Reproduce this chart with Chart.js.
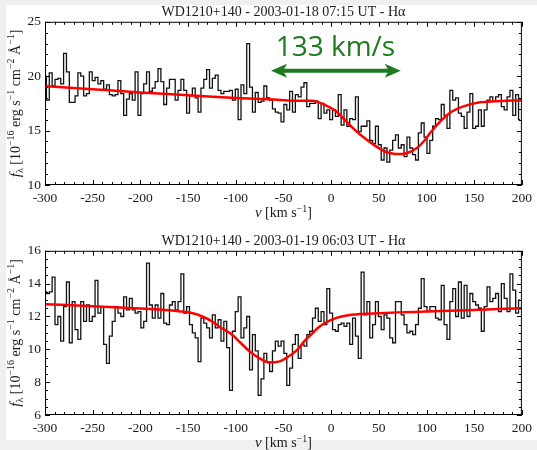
<!DOCTYPE html>
<html>
<head>
<meta charset="utf-8">
<script src="https://cdn.jsdelivr.net/npm/chart.js@4"></script>
<style>
  html, body { margin: 0; padding: 0; background: #f0f0f0; overflow: hidden; }
  #sheet { position: absolute; left: 6px; top: 5px; width: 600px; height: 435px; background: #fff; }
  canvas { position: absolute; left: 0; }
  #night1 { top: 0; }
  #night2 { top: 229px; }
</style>
</head>
<body>
<div id="sheet"></div>
<canvas id="night1" width="537" height="225"></canvas>
<canvas id="night2" width="537" height="221"></canvas>
<script>
// velocity bins of the H-alpha spectra (km/s)
const binStart = -300;
const binWidth = 3;

// flux per bin, 1e-16 erg/s/cm2/A
const fluxNight1 = [
  20.0, 17.8, 20.3, 19.1, 19.7, 19.8, 19.3, 22.1, 20.4, 17.6,
  17.6, 18.2, 20.3, 20.0, 18.2, 18.4, 20.4, 19.6, 19.9, 19.3,
  19.6, 18.8, 19.2, 18.3, 18.2, 18.3, 19.6, 18.4, 16.4, 17.9,
  18.4, 17.8, 20.4, 16.4, 18.4, 19.3, 20.4, 18.6, 18.9, 19.5,
  20.7, 19.5, 17.4, 18.9, 19.7, 19.7, 17.8, 18.7, 19.7, 18.7,
  16.6, 18.2, 18.9, 18.0, 16.7, 18.9, 19.7, 20.6, 18.9, 19.8,
  20.1, 18.7, 18.4, 18.6, 18.6, 18.7, 17.8, 18.8, 16.0, 19.2,
  18.4, 23.0, 19.0, 16.7, 18.5, 17.6, 17.7, 19.1, 18.0, 17.8,
  17.0, 16.7, 16.6, 15.8, 17.4, 16.9, 18.6, 16.7, 18.3, 18.1,
  19.0, 19.4, 17.2, 17.5, 17.5, 17.7, 16.1, 17.5, 16.6, 16.9,
  16.0, 16.9, 16.3, 18.3, 15.5, 16.9, 15.4, 16.1, 16.0, 18.1,
  14.9, 15.4, 15.4, 15.9, 14.1, 13.8, 15.4, 13.7, 12.3, 13.4,
  12.1, 13.2, 14.1, 14.6, 13.4, 13.7, 12.6, 14.4, 13.4, 12.8,
  12.3, 14.8, 15.7, 14.4, 12.9, 14.1, 15.4, 16.1, 16.0, 17.4,
  16.4, 15.2, 18.7, 17.8, 18.0, 16.6, 16.3, 15.2, 16.7, 18.4,
  15.2, 15.4, 16.9, 15.4, 16.9, 17.8, 18.1, 17.7, 18.1, 18.3,
  17.2, 16.9, 18.1, 18.7, 16.4, 18.3, 16.0
];
const fluxNight2 = [
  13.5, 13.4, 13.5, 14.4, 11.5, 12.0, 10.5, 12.6, 14.1, 10.4,
  12.9, 11.2, 10.6, 12.9, 11.7, 12.7, 11.7, 12.0, 14.2, 12.2,
  12.6, 10.3, 9.15, 10.8, 11.7, 12.6, 12.2, 12.0, 13.2, 12.4,
  13.1, 12.4, 12.2, 12.3, 11.3, 11.7, 15.25, 12.7, 11.9, 12.7,
  11.9, 13.4, 11.6, 11.5, 12.7, 12.9, 12.4, 12.9, 14.6, 12.2,
  12.6, 11.5, 11.0, 10.7, 9.25, 11.9, 11.6, 11.3, 10.7, 12.1,
  11.3, 11.8, 10.5, 11.7, 10.1, 7.5, 11.1, 12.3, 13.2, 10.7,
  11.3, 12.0, 8.75, 10.9, 9.9, 7.2, 8.2, 9.75, 9.25, 8.65,
  9.9, 10.5, 10.2, 10.5, 9.75, 7.8, 8.85, 10.3, 10.9, 9.45,
  10.3, 10.2, 10.9, 11.1, 11.9, 12.5, 11.7, 12.3, 11.5, 13.7,
  12.2, 11.2, 11.1, 11.5, 11.6, 11.4, 11.6, 10.3, 11.9, 10.8,
  9.45, 14.7, 12.1, 12.9, 10.7, 11.5, 12.9, 12.0, 11.2, 12.1,
  11.9, 10.7, 10.4, 12.9, 12.9, 12.1, 11.5, 11.0, 11.1, 10.9,
  11.5, 12.5, 14.3, 12.6, 12.3, 12.6, 12.6, 11.9, 11.8, 13.9,
  11.5, 10.6, 12.9, 13.7, 12.0, 14.1, 11.9, 13.9, 12.0, 13.4,
  12.9, 12.7, 12.5, 11.1, 12.6, 13.8, 12.9, 13.1, 13.4, 12.3,
  14.0, 13.1, 12.3, 14.6, 13.6, 12.2, 13.0
];

// gaussian line fits, sampled
const fitNight1V = [-300, -250, -200, -150, -100, -60, -40, -20, -5, 5, 13, 22, 31, 40, 48, 56, 64, 70, 78, 90, 97, 104, 114, 124, 138, 156, 172, 200];
const fitNight1F = [19.1, 18.8, 18.5, 18.25, 18.0, 17.85, 17.75, 17.75, 17.3, 16.8, 16.1, 15.3, 14.6, 14.0, 13.5, 13.1, 12.9, 12.85, 12.9, 13.4, 14.0, 14.8, 15.8, 16.6, 17.2, 17.6, 17.7, 17.8];
const fitNight2V = [-300, -250, -200, -180, -160, -145, -135, -125, -115, -104, -95, -85, -75, -65, -55, -45, -35, -28, -20, -14, -5, 5, 15, 30, 50, 70, 100, 150, 200];
const fitNight2F = [12.75, 12.62, 12.48, 12.42, 12.32, 12.2, 12.0, 11.7, 11.3, 10.9, 10.4, 9.85, 9.45, 9.2, 9.25, 9.55, 10.0, 10.5, 10.95, 11.3, 11.65, 11.9, 12.05, 12.15, 12.2, 12.25, 12.3, 12.4, 12.5];

const titles = [
  'WD1210+140 - 2003-01-18 07:15 UT - Hα',
  'WD1210+140 - 2003-01-19 06:03 UT - Hα'
];
const yRange1 = [10, 25];
const yRange2 = [6, 16];
const vRange = [-300, 200];

// velocity shift marker on the first night
const shiftLabel = '133 km/s';
const shiftFrom = -63, shiftTo = 73, shiftLevel = 20.5;
const shiftLabelV = 4.5, shiftLabelLevel = 22.6;

const serif = "'Liberation Serif', 'DejaVu Serif', serif";
const ink = '#1a1a1a';
const green = '#1d7a1d';

// axis labels as runs: [text, style] with style n(ormal), i(talic), ^ (sup), _ (sub)
const fluxLabel = [['f', 'i'], ['λ', '_'], [' [10', 'n'], ['−16', '^'], [' erg s', 'n'], ['−1', '^'],
  [' cm', 'n'], ['−2', '^'], [' Å', 'n'], ['−1', '^'], [']', 'n']];
const velLabel = [['v', 'i'], [' [km s', 'n'], ['−1', '^'], [']', 'n']];

function toPoints(xs, ys) {
  return ys.map((y, i) => ({ x: xs[i], y }));
}
function binned(flux) {
  return flux.map((f, i) => ({ x: binStart + i * binWidth, y: f }));
}

function runFont(style) {
  if (style === 'i') return 'italic 15px ' + serif;
  if (style === '^' || style === '_') return '10px ' + serif;
  return '14px ' + serif;
}
function runShift(style) {
  return style === '^' ? -5.5 : style === '_' ? 3 : 0;
}
// draws a label centred on (0,0) in the current transform
function drawRich(ctx, runs) {
  let total = 0;
  runs.forEach(([t, s]) => { ctx.font = runFont(s); total += ctx.measureText(t).width; });
  let cx = -total / 2;
  ctx.textAlign = 'left';
  ctx.textBaseline = 'alphabetic';
  runs.forEach(([t, s]) => {
    ctx.font = runFont(s);
    ctx.fillText(t, cx, 4.5 + runShift(s));
    cx += ctx.measureText(t).width;
  });
}

// box frame with inward ticks on all four sides, plus the axis labels
const panelFrame = {
  id: 'panelFrame',
  afterDatasetsDraw(chart, args, o) {
    const { ctx, chartArea: a, scales: { x, y } } = chart;
    ctx.save();
    ctx.strokeStyle = '#000';
    ctx.lineWidth = 1;
    ctx.strokeRect(a.left + 0.5, a.top + 0.5, a.right - a.left - 1, a.bottom - a.top - 1);
    ctx.beginPath();
    const nx = Math.round((x.max - x.min) / o.xStep);
    for (let i = 0; i <= nx; i++) {
      const px = Math.round(x.getPixelForValue(x.min + i * o.xStep)) + 0.5;
      const len = i % o.xEvery === 0 ? 5 : 3;
      ctx.moveTo(px, a.bottom); ctx.lineTo(px, a.bottom - len);
      ctx.moveTo(px, a.top); ctx.lineTo(px, a.top + len);
    }
    const ny = Math.round((y.max - y.min) / o.yStep);
    for (let i = 0; i <= ny; i++) {
      const py = Math.round(y.getPixelForValue(y.min + i * o.yStep)) + 0.5;
      const len = i % o.yEvery === 0 ? 5 : 3;
      ctx.moveTo(a.left, py); ctx.lineTo(a.left + len, py);
      ctx.moveTo(a.right, py); ctx.lineTo(a.right - len, py);
    }
    ctx.stroke();

    ctx.fillStyle = ink;
    ctx.save();
    ctx.translate((a.left + a.right) / 2, a.bottom + 27.5);
    drawRich(ctx, velLabel);
    ctx.restore();
    ctx.save();
    ctx.translate(15, (a.top + a.bottom) / 2);
    ctx.rotate(-Math.PI / 2);
    drawRich(ctx, fluxLabel);
    ctx.restore();
    ctx.restore();
  }
};

const shiftArrow = {
  id: 'shiftArrow',
  afterDatasetsDraw(chart) {
    const { ctx, scales: { x, y } } = chart;
    const x0 = x.getPixelForValue(shiftFrom);
    const x1 = x.getPixelForValue(shiftTo);
    const py = y.getPixelForValue(shiftLevel);
    ctx.save();
    ctx.strokeStyle = green;
    ctx.fillStyle = green;
    ctx.lineWidth = 4;
    ctx.beginPath();
    ctx.moveTo(x0 + 10, py);
    ctx.lineTo(x1 - 10, py);
    ctx.stroke();
    [[x0, 1], [x1, -1]].forEach(([tip, dir]) => {
      ctx.beginPath();
      ctx.moveTo(tip, py);
      ctx.lineTo(tip + dir * 16, py - 7);
      ctx.lineTo(tip + dir * 12, py);
      ctx.lineTo(tip + dir * 16, py + 7);
      ctx.closePath();
      ctx.fill();
    });
    ctx.font = "28px 'Open Sans', 'Noto Sans', sans-serif";
    ctx.textAlign = 'center';
    ctx.textBaseline = 'middle';
    ctx.fillText(shiftLabel, x.getPixelForValue(shiftLabelV), y.getPixelForValue(shiftLabelLevel));
    ctx.restore();
  }
};

function makePanel(id, cfg) {
  return new Chart(document.getElementById(id), {
    type: 'line',
    data: {
      datasets: [{
        data: toPoints(cfg.fitV, cfg.fitF),
        borderColor: '#ff0000',
        borderWidth: 2.5,
        pointRadius: 0,
        cubicInterpolationMode: 'monotone'
      }, {
        data: binned(cfg.flux),
        borderColor: '#111',
        borderWidth: 1.3,
        pointRadius: 0,
        stepped: 'middle'
      }]
    },
    options: {
      responsive: false,
      animation: false,
      devicePixelRatio: 1,
      layout: { padding: { left: 0, right: 11, top: 0, bottom: 0 } },
      plugins: {
        legend: { display: false },
        tooltip: { enabled: false },
        title: {
          display: true,
          fullSize: false,
          text: cfg.title,
          color: ink,
          font: { family: serif, size: 14, weight: 'normal' },
          padding: { top: 4, bottom: 1 }
        },
        panelFrame: cfg.frame
      },
      scales: {
        x: {
          type: 'linear',
          min: vRange[0],
          max: vRange[1],
          grid: { display: false, drawTicks: false },
          border: { display: false },
          ticks: { stepSize: 50, color: ink, padding: 5, font: { family: serif, size: 13.5 } },
          afterFit(scale) { scale.height = cfg.xHeight; }
        },
        y: {
          min: cfg.yRange[0],
          max: cfg.yRange[1],
          grid: { display: false, drawTicks: false },
          border: { display: false },
          ticks: { stepSize: cfg.yStep, color: ink, padding: 4, font: { family: serif, size: 13.5 } },
          afterFit(scale) { scale.width = 45; }
        }
      }
    },
    plugins: cfg.extra ? [panelFrame, cfg.extra] : [panelFrame]
  });
}

makePanel('night1', {
  title: titles[0],
  flux: fluxNight1,
  fitV: fitNight1V,
  fitF: fitNight1F,
  yRange: yRange1,
  yStep: 5,
  xHeight: 40,
  frame: { xStep: 10, xEvery: 5, yStep: 1, yEvery: 5 },
  extra: shiftArrow
});

makePanel('night2', {
  title: titles[1],
  flux: fluxNight2,
  fitV: fitNight2V,
  fitF: fitNight2F,
  yRange: yRange2,
  yStep: 2,
  xHeight: 35,
  frame: { xStep: 10, xEvery: 5, yStep: 0.5, yEvery: 4 }
});
</script>
</body>
</html>
